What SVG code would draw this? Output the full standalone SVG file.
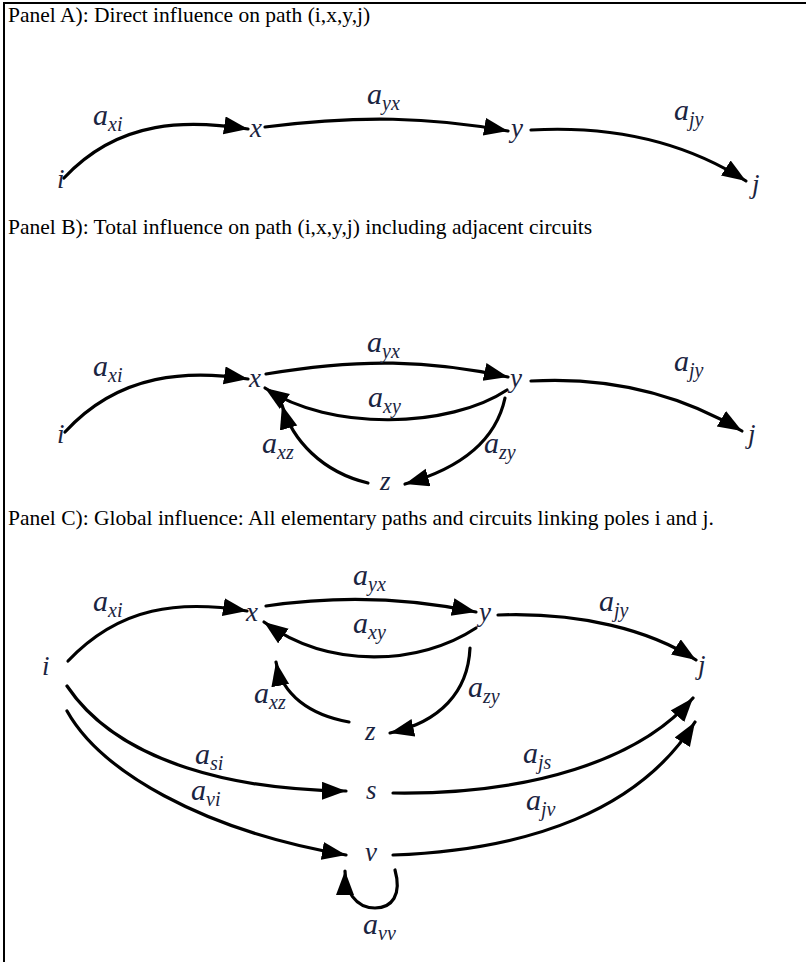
<svg xmlns="http://www.w3.org/2000/svg" width="806" height="962" viewBox="0 0 806 962">
  <defs>
    <marker id="head" markerUnits="userSpaceOnUse" markerWidth="26" markerHeight="20" refX="24" refY="9" orient="auto">
      <path d="M0,0 L24,9 L0,18 z" fill="#000"/>
    </marker>
    <style>
      .title { font-family: "Liberation Serif", "Times New Roman", serif; font-size: 21.5px; fill: #000; }
      .node { font-family: "Liberation Serif", "Times New Roman", serif; font-style: italic; font-size: 27px; fill: #1a2440; }
      .lbl { font-family: "Liberation Serif", "Times New Roman", serif; font-style: italic; font-size: 30px; fill: #1a2440; }
      .sub { font-size: 20px; }
      .edge { fill: none; stroke: #000; stroke-width: 3.2; stroke-linecap: round; marker-end: url(#head); }
    </style>
  </defs>
  <rect width="806" height="962" fill="#fff"/>

  <!-- frame -->
  <path d="M4,962 V3 H806" fill="none" stroke="#000" stroke-width="2"/>

  <!-- panel headings -->
  <text class="title" x="8" y="22">Panel A): Direct influence on path (i,x,y,j)</text>
  <text class="title" x="8" y="234">Panel B): Total influence on path (i,x,y,j) including adjacent circuits</text>
  <text class="title" x="8" y="525">Panel C): Global influence: All elementary paths and circuits linking poles i and j.</text>

  <!-- connectors -->
  <g id="connectors">
    <!-- panel A -->
    <path class="edge" d="M64,178 C120,118 190,120 248,129"/>
    <path class="edge" d="M265,127 C360,115 430,117 508,131"/>
    <path class="edge" d="M531,130 C620,125 690,145 746,181"/>
    <!-- panel B -->
    <path class="edge" d="M65,432 C120,372 190,370 248,379"/>
    <path class="edge" d="M266,374 C360,358 430,360 508,377"/>
    <path class="edge" d="M507,390 C450,428 330,432 265,388"/>
    <path class="edge" d="M505,398 C495,445 455,470 405,484"/>
    <path class="edge" d="M368,483 C322,472 292,440 282,405"/>
    <path class="edge" d="M531,381 C620,376 690,400 742,431"/>
    <!-- panel C -->
    <path class="edge" d="M68,661 C120,606 180,600 247,611"/>
    <path class="edge" d="M266,606 C340,595 410,598 476,612"/>
    <path class="edge" d="M476,628 C420,665 330,670 264,622"/>
    <path class="edge" d="M470,648 C468,692 440,722 390,733"/>
    <path class="edge" d="M349,722 C310,715 282,695 276,662"/>
    <path class="edge" d="M498,615 C580,612 650,630 696,660"/>
    <path class="edge" d="M67,686 C120,765 240,790 346,791"/>
    <path class="edge" d="M67,711 C100,770 200,830 346,855"/>
    <path class="edge" d="M393,793 C530,795 640,760 693,698"/>
    <path class="edge" d="M393,855 C530,850 640,810 695,722"/>
    <path class="edge" d="M395,870 C402,895 392,908 375,908 C355,908 345,890 345,871"/>
  </g>

  <!-- panel A nodes -->
  <g id="A-i"><text class="node" x="57" y="188">i</text></g>
  <g id="A-x"><text class="node" x="250" y="137">x</text></g>
  <g id="A-y"><text class="node" x="511" y="137">y</text></g>
  <g id="A-j"><text class="node" x="752" y="193">j</text></g>
  <g id="A-labels">
    <text class="lbl" x="367" y="104">a<tspan class="sub" dy="6">yx</tspan></text>
    <text class="lbl" x="93" y="125">a<tspan class="sub" dy="6">xi</tspan></text>
    <text class="lbl" x="674" y="120">a<tspan class="sub" dy="6">jy</tspan></text>
  </g>

  <!-- panel B nodes -->
  <g id="B-i"><text class="node" x="57" y="443">i</text></g>
  <g id="B-x"><text class="node" x="249" y="387">x</text></g>
  <g id="B-y"><text class="node" x="510" y="387">y</text></g>
  <g id="B-j"><text class="node" x="748" y="443">j</text></g>
  <g id="B-z"><text class="node" x="380" y="490">z</text></g>
  <g id="B-labels">
    <text class="lbl" x="367" y="352">a<tspan class="sub" dy="6">yx</tspan></text>
    <text class="lbl" x="93" y="376">a<tspan class="sub" dy="6">xi</tspan></text>
    <text class="lbl" x="674" y="371">a<tspan class="sub" dy="6">jy</tspan></text>
    <text class="lbl" x="368" y="407">a<tspan class="sub" dy="6">xy</tspan></text>
    <text class="lbl" x="262" y="453">a<tspan class="sub" dy="6">xz</tspan></text>
    <text class="lbl" x="484" y="453">a<tspan class="sub" dy="6">zy</tspan></text>
  </g>

  <!-- panel C nodes -->
  <g id="C-i"><text class="node" x="42" y="675">i</text></g>
  <g id="C-x"><text class="node" x="246" y="621">x</text></g>
  <g id="C-y"><text class="node" x="479" y="621">y</text></g>
  <g id="C-j"><text class="node" x="698" y="674">j</text></g>
  <g id="C-z"><text class="node" x="365" y="740">z</text></g>
  <g id="C-s"><text class="node" x="366" y="799">s</text></g>
  <g id="C-v"><text class="node" x="365" y="861">v</text></g>
  <g id="C-labels">
    <text class="lbl" x="353" y="585">a<tspan class="sub" dy="6">yx</tspan></text>
    <text class="lbl" x="93" y="611">a<tspan class="sub" dy="6">xi</tspan></text>
    <text class="lbl" x="599" y="611">a<tspan class="sub" dy="6">jy</tspan></text>
    <text class="lbl" x="353" y="633">a<tspan class="sub" dy="6">xy</tspan></text>
    <text class="lbl" x="254" y="703">a<tspan class="sub" dy="6">xz</tspan></text>
    <text class="lbl" x="468" y="697">a<tspan class="sub" dy="6">zy</tspan></text>
    <text class="lbl" x="195" y="764">a<tspan class="sub" dy="6">si</tspan></text>
    <text class="lbl" x="523" y="763">a<tspan class="sub" dy="6">js</tspan></text>
    <text class="lbl" x="191" y="800">a<tspan class="sub" dy="6">vi</tspan></text>
    <text class="lbl" x="526" y="810">a<tspan class="sub" dy="6">jv</tspan></text>
    <text class="lbl" x="363" y="934">a<tspan class="sub" dy="6">vv</tspan></text>
  </g>
</svg>
